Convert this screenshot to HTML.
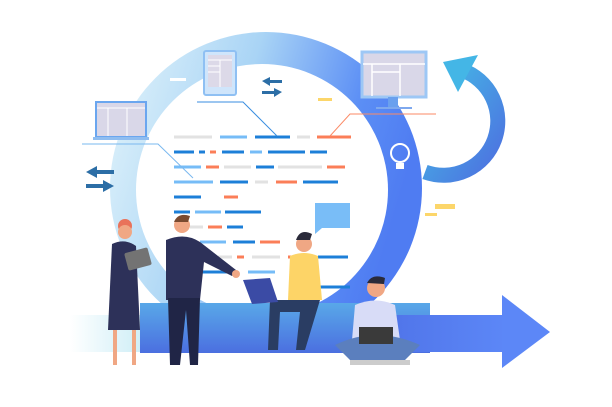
<!DOCTYPE html>
<html><head><style>html,body{margin:0;padding:0;background:#fff}svg{display:block}</style></head>
<body>
<svg width="612" height="407" viewBox="0 0 612 407" xmlns="http://www.w3.org/2000/svg">
<defs>
<linearGradient id="ring" x1="0" y1="0" x2="1" y2="0.3">
<stop offset="0" stop-color="#e4f5fb"/><stop offset="0.45" stop-color="#a9d4f5"/><stop offset="0.8" stop-color="#5b8ef5"/><stop offset="1" stop-color="#4f7cf2"/></linearGradient>
<linearGradient id="band" x1="0" y1="0" x2="0" y2="1"><stop offset="0" stop-color="#59a8e8"/><stop offset="1" stop-color="#4b6fe0"/></linearGradient>
<linearGradient id="arr" x1="0" y1="0" x2="1" y2="0"><stop offset="0" stop-color="#4f73e8"/><stop offset="1" stop-color="#5c87f7"/></linearGradient>
<linearGradient id="cyc" x1="0" y1="0" x2="1" y2="1"><stop offset="0" stop-color="#44c0e6"/><stop offset="1" stop-color="#4d6fe0"/></linearGradient>
<linearGradient id="lb" x1="0" y1="0" x2="1" y2="0"><stop offset="0" stop-color="#ffffff"/><stop offset="1" stop-color="#c9ecf6"/></linearGradient>
</defs>
<circle cx="266" cy="188" r="156" fill="url(#ring)"/>
<circle cx="262" cy="190" r="126" fill="#fff"/>
<path d="M462 70 A42 42 0 1 1 425 172" fill="none" stroke="url(#cyc)" stroke-width="15"/>
<polygon points="443,62 478,55 458,92" fill="#44b6e6"/>
<rect x="70" y="315" width="80" height="37" fill="url(#lb)"/>
<rect x="140" y="303" width="290" height="50" fill="url(#band)"/>
<rect x="380" y="315" width="125" height="37" fill="url(#arr)"/>
<polygon points="502,295 550,332 502,368" fill="#5c87f7"/>
<g stroke-width="3">
<g stroke="#e2e2e2"><line x1="174" y1="137" x2="212" y2="137"/><line x1="297" y1="137" x2="310" y2="137"/><line x1="224" y1="167" x2="251" y2="167"/><line x1="278" y1="167" x2="322" y2="167"/><line x1="255" y1="182" x2="268" y2="182"/><line x1="190" y1="227" x2="203" y2="227"/><line x1="218" y1="257" x2="232" y2="257"/><line x1="252" y1="257" x2="280" y2="257"/></g>
<g stroke="#76bcf7"><line x1="220" y1="137" x2="247" y2="137"/><line x1="250" y1="152" x2="262" y2="152"/><line x1="174" y1="167" x2="201" y2="167"/><line x1="174" y1="182" x2="213" y2="182"/><line x1="195" y1="212" x2="221" y2="212"/><line x1="200" y1="242" x2="226" y2="242"/><line x1="248" y1="272" x2="275" y2="272"/></g>
<g stroke="#1d7fd8"><line x1="255" y1="137" x2="290" y2="137"/><line x1="174" y1="152" x2="194" y2="152"/><line x1="199" y1="152" x2="205" y2="152"/><line x1="222" y1="152" x2="244" y2="152"/><line x1="268" y1="152" x2="305" y2="152"/><line x1="310" y1="152" x2="327" y2="152"/><line x1="256" y1="167" x2="274" y2="167"/><line x1="220" y1="182" x2="248" y2="182"/><line x1="303" y1="182" x2="338" y2="182"/><line x1="174" y1="197" x2="201" y2="197"/><line x1="174" y1="212" x2="190" y2="212"/><line x1="225" y1="212" x2="261" y2="212"/><line x1="227" y1="227" x2="243" y2="227"/><line x1="233" y1="242" x2="255" y2="242"/><line x1="318" y1="257" x2="348" y2="257"/><line x1="200" y1="272" x2="230" y2="272"/><line x1="320" y1="287" x2="350" y2="287"/></g>
<g stroke="#fb7e58"><line x1="317" y1="137" x2="351" y2="137"/><line x1="210" y1="152" x2="216" y2="152"/><line x1="206" y1="167" x2="219" y2="167"/><line x1="327" y1="167" x2="345" y2="167"/><line x1="276" y1="182" x2="297" y2="182"/><line x1="224" y1="197" x2="238" y2="197"/><line x1="208" y1="227" x2="222" y2="227"/><line x1="260" y1="242" x2="280" y2="242"/><line x1="237" y1="257" x2="244" y2="257"/><line x1="288" y1="257" x2="300" y2="257"/></g>
</g>
<polyline points="197,102 243,102 277,136" fill="none" stroke="#3a8ee0" stroke-width="1"/>
<polyline points="82,144 158,144 193,178" fill="none" stroke="#7ab8ef" stroke-width="1"/>
<polyline points="436,114 350,114 330,136" fill="none" stroke="#fb8a66" stroke-width="1"/>
<rect x="204" y="51" width="32" height="44" rx="2" fill="#cfe5fb" stroke="#8fc0f3" stroke-width="2"/>
<rect x="208" y="55" width="24" height="32" fill="#dcd9e8"/>
<g stroke="#fff" stroke-width="1"><line x1="208" y1="60" x2="232" y2="60"/><line x1="208" y1="66" x2="220" y2="66"/><line x1="208" y1="72" x2="220" y2="72"/><line x1="220" y1="60" x2="220" y2="87"/></g>
<rect x="96" y="102" width="50" height="35" fill="#d9d7e8" stroke="#6aa6ef" stroke-width="2"/>
<g stroke="#fff" stroke-width="1"><line x1="97" y1="108" x2="145" y2="108"/><line x1="108" y1="108" x2="108" y2="136"/><line x1="127" y1="108" x2="127" y2="136"/></g>
<rect x="93" y="137" width="56" height="3" fill="#8fbdf0"/>
<rect x="362" y="52" width="64" height="45" fill="#d9d7e8" stroke="#9dc7f5" stroke-width="3"/>
<g stroke="#fff" stroke-width="1.5"><line x1="363" y1="64" x2="425" y2="64"/><line x1="372" y1="64" x2="372" y2="96"/><line x1="400" y1="64" x2="400" y2="96"/><line x1="372" y1="72" x2="400" y2="72"/></g>
<rect x="388" y="97" width="10" height="10" fill="#6aa0ee"/>
<rect x="376" y="107" width="36" height="2" fill="#7ea8ee"/>
<rect x="170" y="78" width="16" height="3" fill="#fff"/>
<g fill="#2c6ea6">
<polygon points="262,81 270,77 270,80 282,80 282,83 270,83 270,86"/><polygon points="282,92 274,88 274,91 262,91 262,94 274,94 274,97"/>
<polygon points="86,172 97,166 97,170 114,170 114,174 97,174 97,178"/><polygon points="114,186 103,180 103,184 86,184 86,188 103,188 103,192"/>
</g>
<circle cx="400" cy="153" r="9" fill="none" stroke="#fff" stroke-width="2"/>
<rect x="396" y="163" width="8" height="6" fill="#fff"/>
<rect x="435" y="204" width="20" height="5" fill="#fcd66a"/><rect x="425" y="213" width="12" height="3" fill="#fcd66a"/>
<rect x="318" y="98" width="14" height="3" fill="#fcd66a"/>
<path d="M315 203 H350 V228 H322 L315 234 Z" fill="#79bdf7"/>
<circle cx="125" cy="226" r="7" fill="#e9725a"/>
<circle cx="125" cy="232" r="7" fill="#f0a784"/>
<path d="M112 244 Q125 238 136 246 L140 330 L108 330 Z" fill="#2d3159"/>
<rect x="113" y="330" width="4" height="35" fill="#f0a784"/><rect x="132" y="330" width="4" height="35" fill="#f0a784"/>
<rect x="126" y="250" width="24" height="18" rx="2" transform="rotate(-15 138 259)" fill="#737373"/>
<circle cx="182" cy="225" r="8" fill="#f0a784"/><path d="M174 222 Q178 212 190 216 L188 222 Z" fill="#7a4a30"/>
<path d="M166 240 Q185 232 200 242 L236 270 L232 276 L204 262 L200 300 L166 300 Z" fill="#2d3159"/>
<path d="M168 298 H200 L198 365 H190 L186 310 L180 365 H170 Z" fill="#202546"/>
<circle cx="236" cy="274" r="4" fill="#f0a784"/>
<circle cx="304" cy="244" r="8" fill="#f0a784"/><path d="M296 240 Q300 228 312 234 L310 240 Z" fill="#2a2a3a"/>
<path d="M290 256 Q304 250 318 256 L322 300 L288 300 Z" fill="#fdd467"/>
<path d="M270 300 H320 L305 350 H296 L300 312 L280 312 L278 350 H268 Z" fill="#2a3d63"/>
<polygon points="243,280 270,278 278,302 252,304" fill="#3b4ba5"/>
<circle cx="376" cy="288" r="9" fill="#f0a784"/><path d="M367 283 Q372 273 385 278 L384 284 Z" fill="#2a2a3a"/>
<path d="M355 305 Q376 296 395 305 L400 340 L352 340 Z" fill="#d8dcf7"/>
<path d="M335 345 Q376 325 420 345 L405 360 L350 360 Z" fill="#5b7fbe"/>
<rect x="359" y="327" width="34" height="17" fill="#3a3a3a"/>
<rect x="350" y="360" width="60" height="5" fill="#ccc"/>
</svg>
</body></html>
